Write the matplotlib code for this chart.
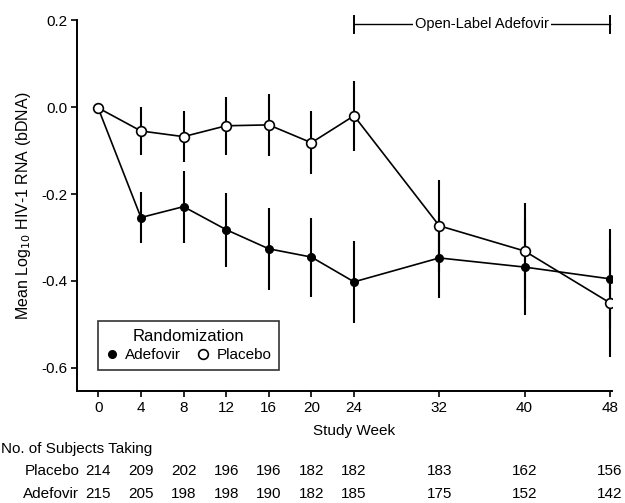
import numpy as np
import matplotlib.pyplot as plt
from matplotlib.lines import Line2D

plt.rcParams['font.family'] = ['Liberation Sans', 'DejaVu Sans']
plt.rcParams['axes.unicode_minus'] = False

# Study weeks and mean change in log10 HIV-1 RNA
weeks = [0, 4, 8, 12, 16, 20, 24, 32, 40, 48]
placebo_mean = [-0.002, -0.055, -0.068, -0.043, -0.041, -0.082, -0.020, -0.273, -0.331, -0.450]
placebo_err = [0.0, 0.056, 0.059, 0.067, 0.071, 0.072, 0.080, 0.106, 0.110, 0.124]
adefovir_mean = [-0.003, -0.254, -0.229, -0.282, -0.326, -0.345, -0.402, -0.347, -0.368, -0.395]
adefovir_err = [0.0, 0.059, 0.083, 0.085, 0.094, 0.091, 0.094, 0.092, 0.110, 0.115]

# Number of subjects at each visit
n_placebo = [214, 209, 202, 196, 196, 182, 182, 183, 162, 156]
n_adefovir = [215, 205, 198, 198, 190, 182, 185, 175, 152, 142]

yticks = [0.2, 0.0, -0.2, -0.4, -0.6]

fs = 11

fig = plt.figure(figsize=(6.25, 5.03), dpi=100)
ax = fig.add_axes([0.1232, 0.2227, 0.8558, 0.7373])

# Error bars first, markers on top
ax.errorbar(weeks, adefovir_mean, yerr=adefovir_err, fmt='none',
            ecolor='black', elinewidth=1.5, capsize=0, zorder=2)
ax.errorbar(weeks, placebo_mean, yerr=placebo_err, fmt='none',
            ecolor='black', elinewidth=1.5, capsize=0, zorder=2)
ax.plot(weeks, adefovir_mean, '-', color='black', lw=1.2,
        marker='o', ms=5.5, mfc='black', mec='black', zorder=3)
ax.plot(weeks, placebo_mean, '-', color='black', lw=1.2,
        marker='o', ms=7, mfc='white', mec='black', mew=1.2, zorder=4)

ax.set_xlim(-2, 48.2)
ax.set_ylim(-0.653, 0.2)
ax.set_xticks(weeks)
ax.set_yticks(yticks)
ax.set_yticklabels(["{0:.1f}".format(v) for v in yticks])
ax.tick_params(direction='out', length=4, width=1.2, labelsize=fs, pad=3)
for side in ['top', 'right']:
    ax.spines[side].set_visible(False)
for side in ['left', 'bottom']:
    ax.spines[side].set_linewidth(1.4)

ax.set_ylabel("Mean Log$_{10}$ HIV-1 RNA (bDNA)", fontsize=11.5, labelpad=6)
ax.text(24, -0.746, "Study Week", ha='center', va='center', fontsize=fs)

# Open-label bracket
yb = 0.19
ax.plot([24, 48], [yb, yb], color='black', lw=1.0, clip_on=False)
ax.plot([24, 24], [yb - 0.02, yb + 0.02], color='black', lw=1.4, clip_on=False)
ax.plot([48, 48], [yb - 0.02, yb + 0.02], color='black', lw=1.4, clip_on=False)
ax.text(36, yb, "Open-Label Adefovir", ha='center', va='center', fontsize=10.5,
        bbox=dict(facecolor='white', edgecolor='none', pad=1.5))

# Legend
handles = [
    Line2D([], [], ls='none', marker='o', ms=5.5, mfc='black', mec='black'),
    Line2D([], [], ls='none', marker='o', ms=7, mfc='white', mec='black', mew=1.2),
]
leg = ax.legend(handles, ["Adefovir", "Placebo"], title="Randomization", ncol=2,
                loc='lower left', bbox_to_anchor=(0.039, 0.057),
                fontsize=fs, title_fontsize=12, frameon=True, fancybox=False,
                handlelength=0.8, handletextpad=0.5, columnspacing=1.0,
                borderpad=0.5, borderaxespad=0, labelspacing=0.3)
leg.get_frame().set_edgecolor('black')
leg.get_frame().set_linewidth(1.2)

# Subjects table
ax.text(-9.1, -0.786, "No. of Subjects Taking", ha='left', va='center',
        fontsize=fs, clip_on=False)
ax.text(-1.8, -0.838, "Placebo", ha='right', va='center', fontsize=fs, clip_on=False)
ax.text(-1.8, -0.891, "Adefovir", ha='right', va='center', fontsize=fs, clip_on=False)
for w, npl, nad in zip(weeks, n_placebo, n_adefovir):
    ax.text(w, -0.838, str(npl), ha='center', va='center', fontsize=fs, clip_on=False)
    ax.text(w, -0.891, str(nad), ha='center', va='center', fontsize=fs, clip_on=False)

fig.savefig("out.png", dpi=100)
